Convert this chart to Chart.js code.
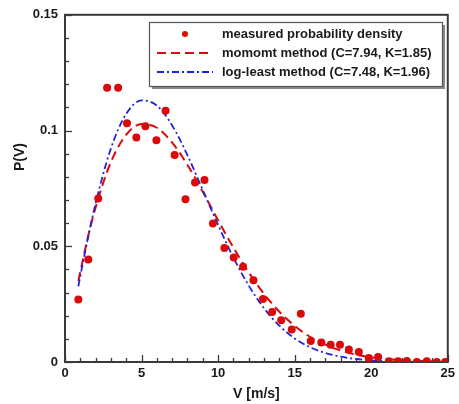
<!DOCTYPE html>
<html>
<head>
<meta charset="utf-8">
<script src="https://cdn.jsdelivr.net/npm/chart.js@4/dist/chart.umd.min.js"></script>
<style>
  html, body { margin: 0; padding: 0; background: #fff; }
  #wrap { width: 459px; height: 404px; }
</style>
</head>
<body>
<div id="wrap"><canvas id="c" width="459" height="404"></canvas></div>
<script>
// ---- data ----
const measuredV = [0.87,1.52,2.17,2.75,3.47,4.05,4.66,5.25,5.97,6.57,7.16,7.87,8.49,9.11,9.66,10.41,11.02,11.63,12.31,12.93,13.53,14.12,14.81,15.40,16.05,16.74,17.35,17.96,18.54,19.19,19.84,20.45,21.15,21.75,22.33,22.98,23.63,24.28,24.83];
const measuredP = [0.0270,0.0443,0.0706,0.1185,0.1185,0.1031,0.0970,0.1019,0.0958,0.1086,0.0894,0.0703,0.0775,0.0786,0.0598,0.0493,0.0451,0.0412,0.0353,0.0272,0.0216,0.0180,0.0140,0.0208,0.0091,0.0084,0.0075,0.0075,0.0054,0.0043,0.0017,0.0022,0.0003,0.0003,0.0004,0.0000,0.0003,0.0000,0.0000];
const curveV = [0.87,1.5,2,3,4,5,6,7,8,9,10,11,12,13,14,15,16,17,18,19,20,21,22,23,24,25];
const momentP = [0.0350,0.0540,0.0668,0.0864,0.0982,0.1028,0.1012,0.0948,0.0851,0.0735,0.0612,0.0494,0.0387,0.0294,0.0217,0.0156,0.0109,0.0075,0.0050,0.0032,0.0020,0.0013,0.0008,0.0005,0.0003,0.0001];
const logLeastP = [0.0327,0.0537,0.0685,0.0923,0.1072,0.1130,0.1108,0.1022,0.0893,0.0743,0.0592,0.0451,0.0330,0.0232,0.0157,0.0102,0.0064,0.0039,0.0023,0.0013,0.0007,0.0004,0.0002,0.0001,0.0000,0.0000];
const seriesLabels = ['measured probability density','momomt method (C=7.94, K=1.85)','log-least method (C=7.48, K=1.96)'];
const xTicks = [0,5,10,15,20,25];
const yTicks = [0,0.05,0.1,0.15];
const xTitle = 'V [m/s]';
const yTitle = 'P(V)';

const FONT = '"Liberation Sans", Arial, sans-serif';
const RED = 'rgb(218,10,10)';
const BLUE = 'rgb(35,35,215)';
const AXIS = '#3a3a3a';

const toXY = (xs, ys) => xs.map((x, i) => ({x: x, y: ys[i]}));

const framePlugin = {
  id: 'frame',
  beforeDatasetsDraw(chart) {
    const {ctx, chartArea: a, scales: {x, y}} = chart;
    ctx.save();
    ctx.strokeStyle = AXIS;
    ctx.lineWidth = 1.3;
    for (let v = 0; v <= 25; v += 1) {
      const px = Math.round(x.getPixelForValue(v)) + 0.5;
      const len = (v % 5 === 0) ? 7 : 4;
      ctx.beginPath(); ctx.moveTo(px, a.bottom); ctx.lineTo(px, a.bottom - len); ctx.stroke();
    }
    for (let k = 0; k <= 15; k += 1) {
      const py = Math.round(y.getPixelForValue(k / 100)) + 0.5;
      const len = (k % 5 === 0) ? 7 : 4;
      ctx.beginPath(); ctx.moveTo(a.left, py); ctx.lineTo(a.left + len, py); ctx.stroke();
    }
    ctx.lineWidth = 2;
    ctx.strokeRect(a.left, a.top, a.right - a.left, a.bottom - a.top);
    ctx.restore();
  },
  afterDraw(chart) {
    const {ctx} = chart;
    ctx.save();
    ctx.fillStyle = '#1a1a1a';
    ctx.font = 'bold 14px ' + FONT;
    ctx.translate(20, 157);
    ctx.rotate(-Math.PI / 2);
    ctx.textAlign = 'center';
    ctx.textBaseline = 'middle';
    ctx.fillText(yTitle, 0, 0);
    ctx.restore();

    ctx.save();
    const bx = 149, by = 22, bw = 293, bh = 64;
    ctx.fillStyle = '#8a8a8a';
    ctx.fillRect(bx + 3, by + 3, bw, bh);
    ctx.fillStyle = '#fff';
    ctx.fillRect(bx, by, bw, bh);
    ctx.strokeStyle = '#555';
    ctx.lineWidth = 1.2;
    ctx.strokeRect(bx + 0.5, by + 0.5, bw, bh);
    const rows = [34, 53, 72];
    const ds = chart.data.datasets;
    ctx.font = 'bold 13px ' + FONT;
    ctx.textBaseline = 'middle';
    ctx.textAlign = 'left';
    ctx.fillStyle = RED;
    ctx.beginPath(); ctx.arc(185, rows[0], 3, 0, Math.PI * 2); ctx.fill();
    ctx.strokeStyle = RED; ctx.lineWidth = 2; ctx.setLineDash([9, 5]);
    ctx.beginPath(); ctx.moveTo(157, rows[1]); ctx.lineTo(213, rows[1]); ctx.stroke();
    ctx.strokeStyle = BLUE; ctx.lineWidth = 1.8; ctx.setLineDash([7, 3, 2, 3]);
    ctx.beginPath(); ctx.moveTo(157, rows[2]); ctx.lineTo(213, rows[2]); ctx.stroke();
    ctx.setLineDash([]);
    ctx.fillStyle = '#1a1a1a';
    for (let i = 0; i < 3; i++) ctx.fillText(ds[i].label, 222, rows[i] + 0.5);
    ctx.restore();
  }
};

new Chart(document.getElementById('c'), {
  type: 'scatter',
  data: {
    datasets: [
      {
        label: seriesLabels[0],
        data: toXY(measuredV, measuredP),
        showLine: false,
        pointRadius: 4,
        pointBackgroundColor: RED,
        pointBorderWidth: 0,
        order: 0
      },
      {
        label: seriesLabels[1],
        data: toXY(curveV, momentP),
        showLine: true,
        pointRadius: 0,
        borderColor: RED,
        borderWidth: 2,
        borderDash: [9, 5],
        cubicInterpolationMode: 'monotone',
        order: 2
      },
      {
        label: seriesLabels[2],
        data: toXY(curveV, logLeastP),
        showLine: true,
        pointRadius: 0,
        borderColor: BLUE,
        borderWidth: 1.8,
        borderDash: [7, 3, 2, 3],
        cubicInterpolationMode: 'monotone',
        order: 1
      }
    ]
  },
  options: {
    responsive: false,
    devicePixelRatio: 1,
    animation: false,
    events: [],
    layout: { padding: { left: 0, right: 10, top: 14, bottom: 0 } },
    plugins: { legend: { display: false }, tooltip: { enabled: false } },
    scales: {
      x: {
        type: 'linear', min: 0, max: 25,
        grid: { display: false, drawTicks: false },
        border: { display: false },
        afterBuildTicks: (s) => { s.ticks = xTicks.map(v => ({value: v})); },
        afterFit: (s) => { s.height = 42; },
        ticks: { padding: 4, color: '#1a1a1a', font: { family: FONT, size: 13, weight: 'bold' }, maxRotation: 0,
                 callback: (v) => String(v) },
        title: { display: true, text: xTitle, color: '#1a1a1a', padding: { top: 0, bottom: 1 },
                 font: { family: FONT, size: 14, weight: 'bold' } }
      },
      y: {
        type: 'linear', min: 0, max: 0.15,
        grid: { display: false, drawTicks: false },
        border: { display: false },
        afterBuildTicks: (s) => { s.ticks = yTicks.map(v => ({value: v})); },
        afterFit: (s) => { s.width = 65; },
        ticks: { padding: 7, color: '#1a1a1a', font: { family: FONT, size: 13, weight: 'bold' },
                 callback: (v) => String(+v.toFixed(2)) }
      }
    }
  },
  plugins: [framePlugin]
});
</script>
</body>
</html>
